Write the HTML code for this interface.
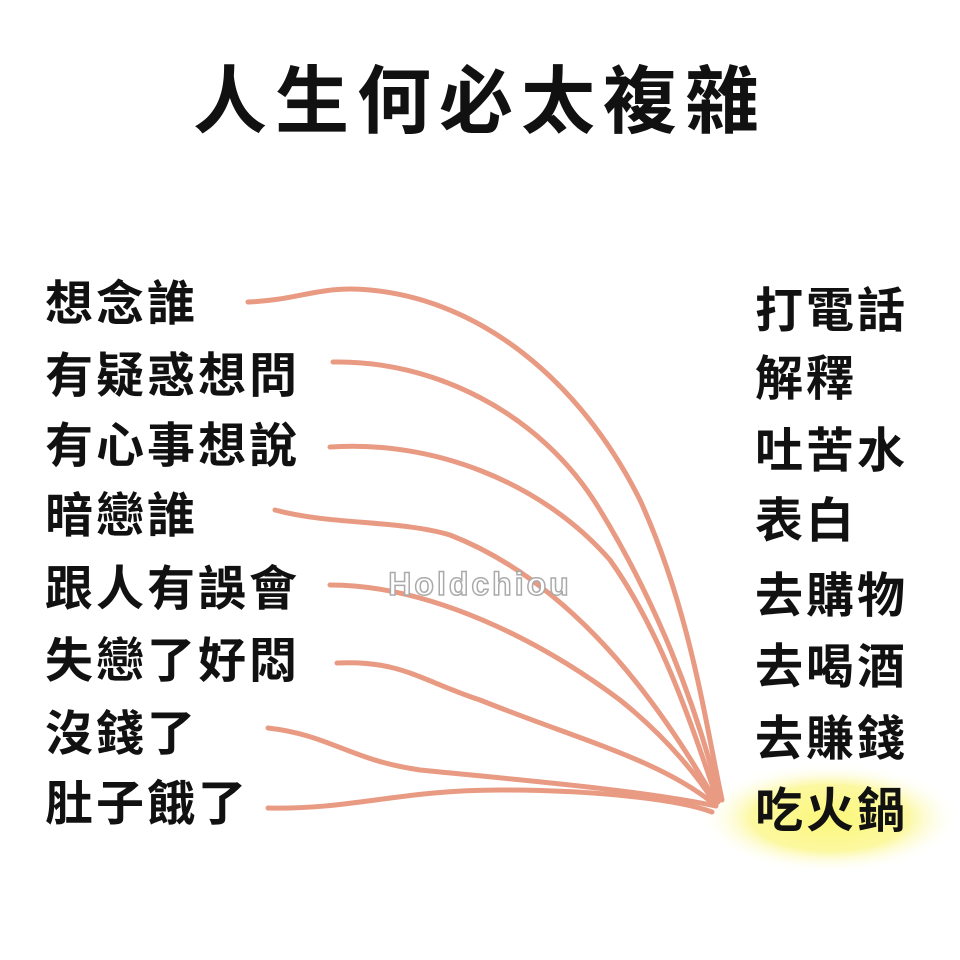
<!DOCTYPE html><html><head><meta charset="utf-8"><style>
body{margin:0;width:960px;height:960px;background:#fff;overflow:hidden;position:relative;font-family:"Liberation Sans","Noto Sans CJK TC",sans-serif;color:#111}
.t{position:absolute;left:0;width:960px;text-align:center;top:60px;font-size:74px;font-weight:700;letter-spacing:8px;line-height:84px}
.l{position:absolute;font-size:48px;font-weight:700;line-height:52px;letter-spacing:3px}
svg{position:absolute;left:0;top:0}
</style></head><body>
<svg width="960" height="960">
<defs><radialGradient id="g"><stop offset="0" stop-color="#fbf77a"/><stop offset="0.6" stop-color="#fcf8a0"/><stop offset="1" stop-color="#fff" stop-opacity="0"/></radialGradient></defs>
<ellipse cx="830" cy="818" rx="130" ry="55" fill="url(#g)"/>
<g fill="none" stroke="#e89a82" stroke-width="5" stroke-linecap="round">
<path d="M248,302 C300,300 320,285 370,290 C480,300 580,380 640,500 C690,610 705,720 722,800"/>
<path d="M333,362 C430,360 540,410 600,510 C655,600 695,700 720,800"/>
<path d="M330,447 C430,440 540,480 610,560 C660,630 690,720 718,802"/>
<path d="M275,510 C330,525 400,520 450,535 C540,570 630,650 716,802"/>
<path d="M330,585 C430,585 540,640 620,700 C670,740 700,780 714,802"/>
<path d="M337,663 C400,660 420,680 480,700 C580,740 660,760 714,804"/>
<path d="M268,728 C330,735 350,760 420,770 C520,780 640,790 716,806"/>
<path d="M268,808 C350,810 400,790 500,790 C600,790 680,800 712,812"/>
</g>
<text x="480" y="595" text-anchor="middle" font-family="Liberation Sans,sans-serif" font-weight="700" font-size="32" fill="#fff" stroke="#aaa" stroke-width="1.5" letter-spacing="3">Holdchiou</text>
</svg>
<div class="t">人生何必太複雜</div>
<div class="l" style="left:45px;top:279px">想念誰</div>
<div class="l" style="left:45px;top:351px">有疑惑想問</div>
<div class="l" style="left:45px;top:421px">有心事想說</div>
<div class="l" style="left:45px;top:491px">暗戀誰</div>
<div class="l" style="left:45px;top:564px">跟人有誤會</div>
<div class="l" style="left:45px;top:636px">失戀了好悶</div>
<div class="l" style="left:45px;top:709px">沒錢了</div>
<div class="l" style="left:45px;top:779px">肚子餓了</div>
<div class="l" style="left:755px;top:286px">打電話</div>
<div class="l" style="left:755px;top:354px">解釋</div>
<div class="l" style="left:755px;top:426px">吐苦水</div>
<div class="l" style="left:755px;top:496px">表白</div>
<div class="l" style="left:755px;top:571px">去購物</div>
<div class="l" style="left:755px;top:642px">去喝酒</div>
<div class="l" style="left:755px;top:714px">去賺錢</div>
<div class="l" style="left:755px;top:786px">吃火鍋</div>
</body></html>
